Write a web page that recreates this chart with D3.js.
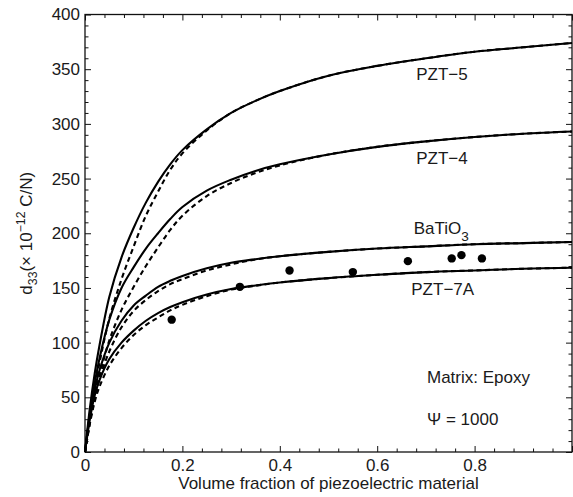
<!DOCTYPE html>
<html>
<head>
<meta charset="utf-8">
<script src="https://cdn.jsdelivr.net/npm/d3@7"></script>
<style>
    body { margin: 0; background: #fff; }
    text { font-family: "Liberation Sans", Arial, sans-serif; fill: #1a1a1a; }
</style>
</head>
<body>
<div id="chart"></div>
<script>
    var fractions = [0, 0.01, 0.02, 0.03, 0.05, 0.075, 0.1, 0.125, 0.15, 0.175, 0.2, 0.25, 0.3, 0.35, 0.4, 0.5, 0.6, 0.7, 0.8, 0.9, 1.0];

    // d33 (x 10^-12 C/N), solid = model, dashed = approximation
    var pzt5Solid = [0, 40, 72, 98, 142, 178, 205, 228, 247, 263, 276, 295, 310, 321, 330, 344, 353, 360, 366, 370, 374];
    var pzt5Dashed = [0, 32, 58, 82, 122, 158, 188, 216, 238, 258, 273, 294, 310, 321, 330, 344, 353, 360, 366, 370, 374];
    var pzt4Solid = [0, 35, 63, 86, 121, 150, 169, 186, 200, 213, 224, 239, 249, 257, 263, 272, 279, 284, 288, 291, 293];
    var pzt4Dashed = [0, 27, 50, 70, 102, 130, 151, 170, 187, 203, 216, 234, 246, 255, 262, 272, 279, 284, 288, 291, 293];
    var batio3Solid = [0, 33, 57, 75, 100, 120, 134, 143, 151, 156.5, 161, 168, 173, 176.3, 179, 183, 186, 188, 190, 191, 192];
    var batio3Dashed = [0, 28, 50, 67, 92, 114, 129, 139, 147, 153.5, 158, 166, 171.5, 176, 179, 183, 186, 188, 190, 191, 192];
    var pzt7aSolid = [0, 30, 52, 66, 85, 100, 111, 120, 127, 132.5, 137, 144, 149, 152.3, 155, 159, 162, 164.5, 166, 167.5, 168.5];
    var pzt7aDashed = [0, 26, 46, 60, 79, 95, 107, 116, 123, 129.5, 134.5, 142.5, 148.5, 152, 155, 159, 162, 164.5, 166, 167.5, 168.5];

    // measured PZT-7A / epoxy points
    var measuredX = [0.178, 0.318, 0.42, 0.55, 0.663, 0.753, 0.773, 0.815];
    var measuredY = [121, 151, 166, 164.5, 174.5, 177, 180, 177];

    var xTicks = [0, 0.2, 0.4, 0.6, 0.8, 1.0];
    var xTickLabels = ['0', '0.2', '0.4', '0.6', '0.8', ''];
    var yTicks = [0, 50, 100, 150, 200, 250, 300, 350, 400];

    var curveLabels = [
        {name: 'PZT\u22125', x: 0.68, y: 340},
        {name: 'PZT\u22124', x: 0.68, y: 263},
        {name: 'BaTiO', sub: '3', x: 0.675, y: 199},
        {name: 'PZT\u22127A', x: 0.67, y: 144}
    ];

    var width = 573;
    var height = 497;
    var margin = {top: 14.5, right: 1, bottom: 45, left: 85};
    var fontSize = 17;

    var svg = d3.select('#chart').append('svg')
        .attr('width', width)
        .attr('height', height);

    var x = d3.scaleLinear().domain([0, 1]).range([margin.left, width - margin.right]);
    var y = d3.scaleLinear().domain([0, 400]).range([height - margin.bottom, margin.top]);

    var minorX = d3.range(0, 1.0001, 0.04).filter(function (v) {
        return Math.abs(v * 5 - Math.round(v * 5)) > 1e-6;
    });
    var minorY = d3.range(0, 401, 10).filter(function (v) {
        return v % 50 !== 0;
    });

    /**
     * draws one side of the frame: major and minor ticks pointing inward
     */
    function drawSide(axisFn, scale, translate, major, minor, labels) {
        svg.append('g')
            .attr('transform', translate)
            .call(axisFn(scale).tickValues(minor).tickSizeInner(-3.5).tickSizeOuter(0).tickFormat(''))
            .call(function (g) { g.select('.domain').remove(); });

        var g = svg.append('g')
            .attr('transform', translate)
            .call(axisFn(scale).tickValues(major).tickSizeInner(-6).tickSizeOuter(0)
                .tickPadding(5)
                .tickFormat(function (d, i) { return labels ? labels[i] : ''; }));
        g.select('.domain').remove();
        g.selectAll('text')
            .style('font-size', fontSize + 'px')
            .attr('fill', '#1a1a1a');
        return g;
    }

    var bottomAxis = drawSide(d3.axisBottom, x, 'translate(0,' + y(0) + ')', xTicks, minorX, xTickLabels);
    bottomAxis.selectAll('text').attr('dy', '0.78em').attr('y', 6);
    drawSide(d3.axisTop, x, 'translate(0,' + y(400) + ')', xTicks, minorX, null);
    drawSide(d3.axisLeft, y, 'translate(' + x(0) + ',0)', yTicks, minorY, yTicks.map(String));
    drawSide(d3.axisRight, y, 'translate(' + x(1) + ',0)', yTicks, minorY, null);

    svg.selectAll('.tick line').attr('stroke', '#111');

    // frame
    svg.append('rect')
        .attr('x', x(0))
        .attr('y', y(400))
        .attr('width', x(1) - x(0))
        .attr('height', y(0) - y(400))
        .attr('fill', 'none')
        .attr('stroke', '#111')
        .attr('stroke-width', 1.3);

    var line = d3.line()
        .x(function (d) { return x(d[0]); })
        .y(function (d) { return y(d[1]); })
        .curve(d3.curveCatmullRom.alpha(0.5));

    var solids = [pzt5Solid, pzt4Solid, batio3Solid, pzt7aSolid];
    var dashes = [pzt5Dashed, pzt4Dashed, batio3Dashed, pzt7aDashed];

    solids.forEach(function (values) {
        svg.append('path')
            .datum(d3.zip(fractions, values))
            .attr('d', line)
            .attr('fill', 'none')
            .attr('stroke', '#000')
            .attr('stroke-width', 2.1);
    });

    dashes.forEach(function (values) {
        svg.append('path')
            .datum(d3.zip(fractions, values))
            .attr('d', line)
            .attr('fill', 'none')
            .attr('stroke', '#000')
            .attr('stroke-width', 2.1)
            .attr('stroke-dasharray', '5,3.5');
    });

    svg.selectAll('.dot')
        .data(d3.zip(measuredX, measuredY))
        .enter().append('circle')
        .attr('class', 'dot')
        .attr('cx', function (d) { return x(d[0]); })
        .attr('cy', function (d) { return y(d[1]); })
        .attr('r', 4.2)
        .attr('fill', '#000');

    // curve names
    curveLabels.forEach(function (lab) {
        var t = svg.append('text')
            .attr('x', x(lab.x))
            .attr('y', y(lab.y))
            .style('font-size', fontSize + 'px')
            .text(lab.name);
        if (lab.sub) {
            t.append('tspan')
                .attr('dy', 7)
                .style('font-size', (fontSize * 0.8) + 'px')
                .text(lab.sub);
        }
    });

    svg.append('text')
        .attr('x', 427)
        .attr('y', 383)
        .style('font-size', fontSize + 'px')
        .text('Matrix: Epoxy');

    svg.append('text')
        .attr('x', 427)
        .attr('y', 425)
        .style('font-size', fontSize + 'px')
        .text('\u03A8 = 1000');

    // axis titles
    svg.append('text')
        .attr('x', (x(0) + x(1)) / 2)
        .attr('y', 489)
        .attr('text-anchor', 'middle')
        .style('font-size', fontSize + 'px')
        .text('Volume fraction of piezoelectric material');

    var yTitle = svg.append('text')
        .attr('transform', 'translate(32,' + ((y(0) + y(400)) / 2) + ') rotate(-90)')
        .attr('text-anchor', 'middle')
        .style('font-size', fontSize + 'px');
    yTitle.append('tspan').text('d');
    yTitle.append('tspan').attr('dy', 5).style('font-size', (fontSize * 0.72) + 'px').text('33');
    yTitle.append('tspan').attr('dy', -5).text('(\u00D7 10');
    yTitle.append('tspan').attr('dy', -7).style('font-size', (fontSize * 0.72) + 'px').text('\u221212');
    yTitle.append('tspan').attr('dy', 7).text(' C/N)');
</script>
</body>
</html>
